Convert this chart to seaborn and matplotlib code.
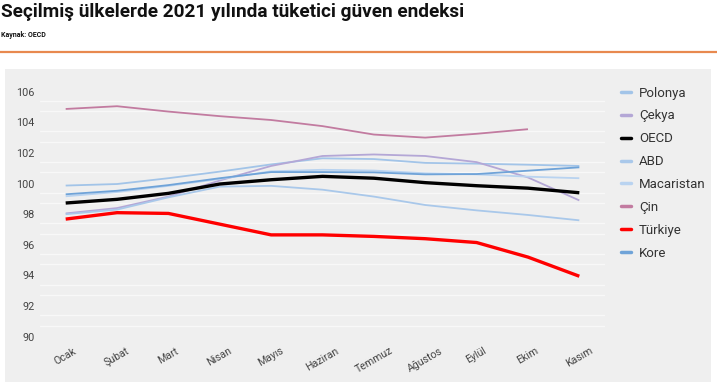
import numpy as np
import pandas as pd
import matplotlib
matplotlib.use('Agg')
import matplotlib.pyplot as plt
import seaborn as sns
from matplotlib.patches import Rectangle
from matplotlib.lines import Line2D

# Monthly consumer confidence values (2021).
months = ['Ocak', 'Şubat', 'Mart', 'Nisan', 'Mayıs', 'Haziran', 'Temmuz',
          'Ağustos', 'Eylül', 'Ekim', 'Kasım']
polonya = [99.87, 99.97, 100.35, 100.78, 101.25, 101.65, 101.6, 101.35, 101.3, 101.23, 101.15]
cekya = [98.05, 98.4, 99.15, 100.2, 101.15, 101.8, 101.9, 101.8, 101.4, 100.4, 98.9]
oecd = [98.73, 98.97, 99.36, 99.97, 100.25, 100.47, 100.35, 100.06, 99.86, 99.7, 99.4]
abd = [98.0, 98.3, 99.1, 99.8, 99.85, 99.6, 99.15, 98.6, 98.25, 97.95, 97.6]
macaristan = [99.17, 99.45, 99.85, 100.3, 100.8, 100.9, 100.85, 100.67, 100.6, 100.45, 100.35]
cin = [104.87, 105.05, 104.7, 104.4, 104.15, 103.75, 103.2, 103.0, 103.25, 103.55, np.nan]
turkiye = [97.68, 98.1, 98.05, 97.35, 96.65, 96.65, 96.55, 96.4, 96.15, 95.2, 93.95]
kore = [99.3, 99.53, 99.9, 100.35, 100.75, 100.75, 100.73, 100.6, 100.62, 100.84, 101.06]
yticks = [90, 92, 94, 96, 98, 100, 102, 104, 106]

series = {'Polonya': polonya, 'Çekya': cekya, 'OECD': oecd, 'ABD': abd,
          'Macaristan': macaristan, 'Çin': cin, 'Türkiye': turkiye, 'Kore': kore}
colors = {'Polonya': '#a2c4e8', 'Çekya': '#b4a7d6', 'OECD': '#000000', 'ABD': '#a9c8ea',
          'Macaristan': '#b9d3f0', 'Çin': '#c27ba0', 'Türkiye': '#ff0000', 'Kore': '#6fa3d8'}
widths = {'OECD': 2.4, 'Türkiye': 2.4}

sns.set_theme(style='white')
plt.rcParams['font.family'] = ['Roboto', 'DejaVu Sans']

fig = plt.figure(figsize=(7.17, 3.91), dpi=100)
fig.patches.append(Rectangle((5/717, 1-382/391), 706/717, 313/391, transform=fig.transFigure,
                             facecolor='#efefef', edgecolor='none', zorder=-10))
ax = fig.add_axes([40/717, 1-344.4/391, 565/717, 260.4/391])
ax.set_facecolor('none')
ax.set_zorder(5)

x = np.arange(len(months))
order = ['Polonya', 'Çekya', 'ABD', 'Macaristan', 'Kore', 'Çin', 'OECD', 'Türkiye']
for name in order:
    df = pd.DataFrame({'x': x, 'y': series[name]}).dropna()
    sns.lineplot(df, x='x', y='y', color=colors[name], lw=widths.get(name, 1.3), ax=ax,
                 solid_capstyle='butt')

ax.set_xlim(-0.5, 10.5)
ax.set_ylim(89.5, 106.5)
ax.set_xticks(x)
ax.set_xticklabels(months, rotation=30, ha='center', fontsize=7.6, color='#444444')
ax.set_yticks(yticks)
ax.set_yticklabels([str(v) for v in yticks], fontsize=7.8, color='#444444')
# faint grid lines sit just under each label
minor = [v - d for v in yticks[1:] for d in (0.6, 1.27)]
ax.set_yticks(minor, minor=True)
ax.grid(which='minor', axis='y', color='#f8f8f8', lw=1.0)
ax.set_axisbelow(True)
ax.tick_params(axis='both', which='both', length=0)
ax.tick_params(axis='y', pad=4)
ax.tick_params(axis='x', pad=1)
ax.set_xlabel('')
ax.set_ylabel('')
for s in ax.spines.values():
    s.set_visible(False)

handles = [Line2D([], [], color=colors[n], lw=2.5) for n in series]
fig.legend(handles, list(series.keys()), loc='upper left', bbox_to_anchor=(621/717, 1-86.5/391),
           frameon=False, fontsize=9.5, handlelength=0.75, handletextpad=0.6,
           labelspacing=0.75, borderpad=0, borderaxespad=0, labelcolor='#333333')

fig.text(0.002, 1-12/391, 'Seçilmiş ülkelerde 2021 yılında tüketici güven endeksi',
         fontsize=13.7, fontweight='bold', va='center', ha='left', color='#111111')
fig.text(0.002, 1-35/391, 'Kaynak: OECD', fontsize=5, fontweight='bold', va='center',
         ha='left', color='#111111')
fig.add_artist(Line2D([0, 1], [1-52/391, 1-52/391], color='#e8894f', lw=1.6,
                      transform=fig.transFigure))

fig.savefig('out.png', dpi=100, facecolor='white')
